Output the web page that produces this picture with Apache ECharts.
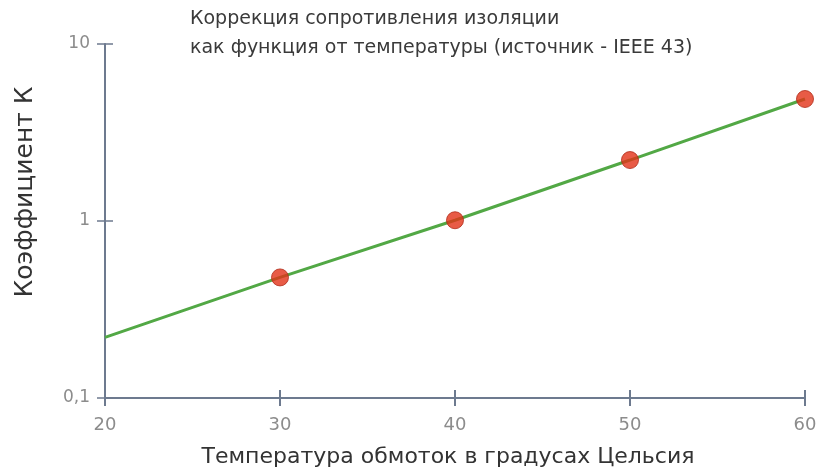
<!DOCTYPE html>
<html>
<head>
<meta charset="utf-8">
<script src="https://cdn.jsdelivr.net/npm/echarts@6/dist/echarts.min.js"></script>
<style>html,body{margin:0;padding:0;background:#fff}#c{width:822px;height:474px}</style>
</head>
<body>
<div id="c"></div>
<script>
const titleLines = ['Коррекция сопротивления изоляции', 'как функция от температуры (источник - IEEE 43)'];
const xName = 'Температура обмоток в градусах Цельсия';
const yName = 'Коэффициент К';
const xTicks = [20, 30, 40, 50, 60];
const yTicks = [0.1, 1, 10];
const yTickLabels = {0.1: '0,1', 1: '1', 10: '10'};
const lineX = [20, 30, 40, 50, 60];
const lineY = [0.22, 0.48, 1.01, 2.21, 4.89];
const dotX = [30, 40, 50, 60];
const dotY = [0.48, 1.01, 2.21, 4.89];

const font = 'DejaVu Sans, Liberation Sans, sans-serif';
const axisColor = '#6d7a8f';
const chart = echarts.init(document.getElementById('c'));
const yAxisBase = {
  type: 'log', logBase: 10, min: yTicks[0], max: yTicks[yTicks.length - 1],
  splitLine: {show: false}, minorTick: {show: false}
};
const xAxisBase = {
  type: 'value', min: xTicks[0], max: xTicks[xTicks.length - 1], interval: xTicks[1] - xTicks[0],
  splitLine: {show: false}
};
chart.setOption({
  animation: false,
  backgroundColor: '#fff',
  title: {
    text: titleLines.join('\n'), left: 185, top: 0,
    textStyle: {fontFamily: font, fontSize: 19, fontWeight: 'normal', color: '#3a3a3a', lineHeight: 29}
  },
  grid: {left: 105, right: 17, top: 44, bottom: 76},
  xAxis: [Object.assign({}, xAxisBase, {
    name: xName, nameLocation: 'middle', nameGap: 48,
    nameTextStyle: {fontFamily: font, fontSize: 22, color: '#333', padding: [0, 14, 0, 0]},
    axisLine: {show: true, lineStyle: {color: axisColor, width: 2}},
    axisTick: {show: true, length: 8, lineStyle: {color: axisColor, width: 2}},
    axisLabel: {fontFamily: font, fontSize: 18, color: '#8c8c8c', margin: 18}
  }), Object.assign({}, xAxisBase, {
    position: 'bottom',
    axisLine: {show: false},
    axisTick: {show: true, inside: true, length: 8, lineStyle: {color: axisColor, width: 2}},
    axisLabel: {show: false}
  })],
  yAxis: [Object.assign({}, yAxisBase, {
    axisLine: {show: true, lineStyle: {color: axisColor, width: 2}},
    axisTick: {show: true, length: 8, lineStyle: {color: axisColor, width: 1.5}},
    axisLabel: {fontFamily: font, fontSize: 17, color: '#8c8c8c', margin: 15,
      formatter: v => yTickLabels[Math.round(v * 10) / 10] || ''}
  }), Object.assign({}, yAxisBase, {
    position: 'left',
    axisLine: {show: false},
    axisTick: {show: true, inside: true, length: 8, lineStyle: {color: axisColor, width: 1.5}},
    axisLabel: {show: false}
  })],
  graphic: [{
    type: 'text', x: 25, y: 192, rotation: Math.PI / 2,
    style: {text: yName, fontFamily: font, fontSize: 25, fill: '#333', align: 'center', verticalAlign: 'middle'}
  }],
  series: [{
    type: 'line', xAxisIndex: 0, yAxisIndex: 0,
    data: lineX.map((x, i) => [x, lineY[i]]),
    showSymbol: false, symbol: 'none',
    lineStyle: {color: '#52a845', width: 3}, z: 2
  }, {
    type: 'scatter', xAxisIndex: 0, yAxisIndex: 0,
    data: dotX.map((x, i) => [x, dotY[i]]),
    symbol: 'circle', symbolSize: 17,
    itemStyle: {color: '#e23218', borderColor: '#b02c1a', borderWidth: 1}, z: 3
  }]
});
</script>
</body>
</html>
